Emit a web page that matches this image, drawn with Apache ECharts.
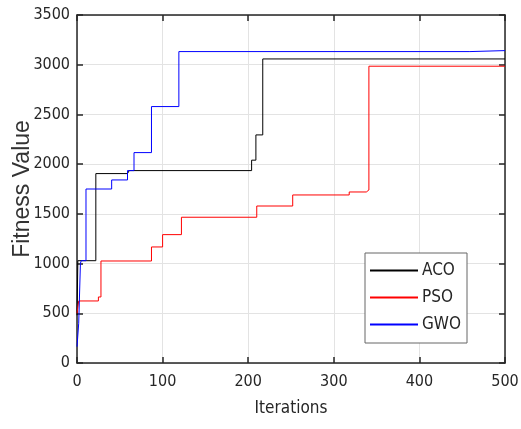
<!DOCTYPE html>
<html>
<head>
<meta charset="utf-8">
<title>Fitness Value</title>
<style>
  * { margin: 0; padding: 0; }
  body { background: #fff; }
  #chart { width: 521px; height: 429px; }
</style>
</head>
<body>
<div id="chart"></div>
<script src="https://cdn.jsdelivr.net/npm/echarts@6/dist/echarts.min.js"></script>
<script>
  // data: iteration where a new best starts, and its value
  var acoIter = [0, 1, 22, 59, 61, 204, 209, 217, 500];
  var acoFit  = [480, 1029, 1905, 1920, 1935, 2040, 2294, 3058, 3058];

  var psoIter = [0, 2, 25, 28, 87, 100, 122, 210, 252, 318, 338, 341, 500];
  var psoFit  = [500, 624, 664, 1026, 1167, 1291, 1466, 1579, 1690, 1720, 1740, 2985, 2985];

  var gwoIter = [0, 2, 4, 5, 10.5, 40.5, 59, 66.6, 87, 119, 459, 500];
  var gwoFit  = [164, 400, 1003, 1029, 1750, 1841, 1935, 2116, 2579, 3132, 3142, 3142];

  var seriesNames = ['ACO', 'PSO', 'GWO'];
  var seriesColors = ['#000000', '#ff0000', '#0000ff'];

  // picture is squeezed sideways, so horizontal text uses a condensed face
  var FONT = "'Liberation Sans Narrow', 'DejaVu Sans Condensed', 'Liberation Sans', sans-serif";
  var FONT_V = "'Liberation Sans', Arial, sans-serif";

  function pairs(xs, ys) {
    var out = [];
    for (var i = 0; i < xs.length; i++) out.push([xs[i], ys[i]]);
    return out;
  }

  var lines = [pairs(acoIter, acoFit), pairs(psoIter, psoFit), pairs(gwoIter, gwoFit)];

  var boxLine = { show: true, onZero: false, lineStyle: { color: '#262626', width: 1.5 } };
  var tick = { show: true, inside: true, length: 6, lineStyle: { color: '#262626', width: 1.5 } };

  var chart = echarts.init(document.getElementById('chart'));
  chart.setOption({
    animation: false,
    backgroundColor: '#fff',
    grid: { left: 77, right: 16, top: 15, bottom: 66, outerBoundsMode: 'none', containLabel: false },
    legend: {
      orient: 'vertical',
      left: 365, top: 253,
      padding: [9, 6, 10, 5],
      itemGap: 10,
      itemWidth: 48,
      itemHeight: 2,
      icon: 'rect',
      backgroundColor: '#fff',
      borderColor: '#666',
      borderWidth: 1,
      borderRadius: 0,
      textStyle: { fontFamily: FONT, fontSize: 17, color: '#262626', padding: [0, 0, 0, -1] },
      data: seriesNames
    },
    xAxis: [{
      type: 'value', min: 0, max: 500, interval: 100,
      name: 'Iterations', nameLocation: 'middle', nameGap: 37, nameMoveOverlap: false,
      nameTextStyle: { fontFamily: FONT, fontSize: 17, color: '#262626' },
      axisLine: boxLine, axisTick: tick,
      axisLabel: { fontFamily: FONT, fontSize: 16, color: '#262626', margin: 11 },
      splitLine: { show: true, lineStyle: { color: '#e3e3e3', width: 1 } }
    }, {
      type: 'value', min: 0, max: 500, interval: 100, position: 'top',
      axisLine: boxLine, axisTick: tick,
      axisLabel: { show: false }, splitLine: { show: false }
    }],
    yAxis: [{
      type: 'value', min: 0, max: 3500, interval: 500,
      name: 'Fitness Value', nameLocation: 'middle', nameGap: 43, nameMoveOverlap: false,
      nameTextStyle: { fontFamily: FONT_V, fontSize: 23, color: '#333' },
      axisLine: boxLine, axisTick: tick,
      axisLabel: { fontFamily: FONT, fontSize: 16, color: '#262626', margin: 7,
        formatter: function (v) { return String(v); } },
      splitLine: { show: true, lineStyle: { color: '#e3e3e3', width: 1 } }
    }, {
      type: 'value', min: 0, max: 3500, interval: 500, position: 'right',
      axisLine: boxLine, axisTick: tick,
      axisLabel: { show: false }, splitLine: { show: false }
    }],
    series: seriesNames.map(function (n, i) {
      return {
        name: n,
        type: 'line',
        step: 'end',
        data: lines[i],
        symbol: 'none',
        showSymbol: false,
        color: seriesColors[i],
        lineStyle: { color: seriesColors[i], width: 1 }
      };
    })
  });
</script>
</body>
</html>
